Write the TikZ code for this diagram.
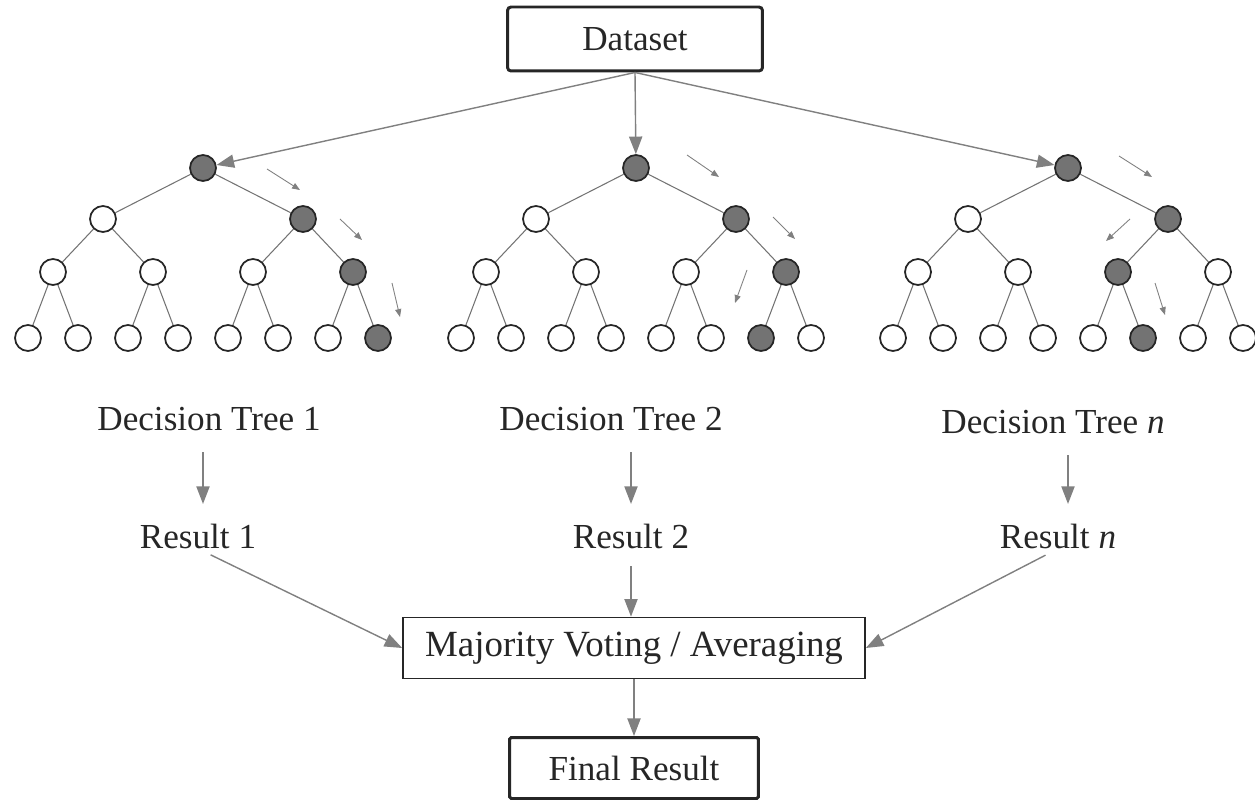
\documentclass[tikz,border=0pt]{standalone}
\usepackage{fontspec}
\setmainfont{Liberation Serif}
\usetikzlibrary{arrows.meta}

\begin{document}
\begin{tikzpicture}[x=0.02cm,y=-0.02cm,
    box/.style={draw=black!85,fill=white,inner sep=0pt,text=black!85,
        font=\fontsize{20}{24}\selectfont},
    txt/.style={inner sep=0pt,text=black!85,font=\fontsize{20}{24}\selectfont},
    bigarrow/.style={draw=black!50,line width=0.8pt,
        -{Triangle[length=10pt,width=7.5pt]}},
    hint/.style={draw=black!50,line width=0.5pt,
        -{Triangle[length=4.5pt,width=3.5pt]}}]
    \tikzstyle{element}=[circle,draw=black!85,line width=1pt,minimum
        size=0.52cm,inner sep=0pt]
    \tikzstyle{branch}=[draw=black!55,line width=0.6pt]

    \useasboundingbox (0,0) rectangle (1255,800);

    \node[box,line width=1.7pt,rounded corners=2pt,minimum width=5.1cm,
        minimum height=1.28cm] (data) at (635,39) {Dataset};

    % three trees, \leaf is the shaded leaf
    \foreach \t/\cx/\leaf in {1/203/15,2/636/14,3/1068/13} {
        \foreach \i/\dx/\y/\d in {1/0/168/3,2/-100/219/2,3/100/219/2,
            4/-150/272/1,5/-50/272/1,6/50/272/1,7/150/272/1,
            8/-175/338/0,9/-125/338/0,10/-75/338/0,11/-25/338/0,
            12/25/338/0,13/75/338/0,14/125/338/0,15/175/338/0} {
            \pgfmathtruncatemacro\anc{\leaf/2^\d}
            \ifnum\anc=\i \def\fillc{black!55}\else\def\fillc{white}\fi
            \node[element,fill=\fillc] (n\t-\i) at (\cx+\dx,\y) {};
        }
        \foreach \i in {2,...,15} {
            \pgfmathtruncatemacro\up{\i/2}
            \draw[branch] (n\t-\up) -- (n\t-\i);
        }
    }

    \draw[bigarrow] (data.south) -- (n1-1);
    \draw[bigarrow] (data.south) -- (n2-1);
    \draw[bigarrow] (data.south) -- (n3-1);

    \draw[hint] (267,169) -- (300,190);
    \draw[hint] (340,219) -- (362,240);
    \draw[hint] (392,283) -- (400,317);
    \draw[hint] (687,155) -- (719,177);
    \draw[hint] (773,217) -- (795,239);
    \draw[hint] (747,270) -- (735,303);
    \draw[hint] (1119,156) -- (1152,177);
    \draw[hint] (1130,219) -- (1106,241);
    \draw[hint] (1155,283) -- (1165,315);

    \node[txt] (dt1) at (209,419) {Decision Tree 1};
    \node[txt] (dt2) at (611,419) {Decision Tree 2};
    \node[txt] (dt3) at (1053,422) {Decision Tree \textit{n}};

    \node[txt] (res1) at (198,536) {Result 1};
    \node[txt] (res2) at (631,536) {Result 2};
    \node[txt] (res3) at (1058,536) {Result \textit{n}};

    \node[box,line width=1pt,minimum width=9.24cm,minimum height=1.22cm,
        font=\fontsize{21}{25}\selectfont]
        (vote) at (634,648) {Majority Voting / Averaging};
    \node[box,line width=1.7pt,rounded corners=1pt,minimum width=4.98cm,
        minimum height=1.22cm] (final) at (634,768) {Final Result};

    \draw[bigarrow,shorten <=12pt,shorten >=11pt] (dt1.south -| n1-1) -- (res1.north -| n1-1);
    \draw[bigarrow,shorten <=12pt,shorten >=11pt] (dt2.south -| res2) -- (res2.north);
    \draw[bigarrow,shorten <=12pt,shorten >=11pt] (dt3.south -| n3-1) -- (res3.north -| n3-1);

    \draw[bigarrow,shorten <=8pt] (res1.south) -- (vote.west);
    \draw[bigarrow,shorten <=10pt] (res2.south) -- (vote.north -| res2);
    \draw[bigarrow,shorten <=8pt] (res3.south) -- (vote.east);
    \draw[bigarrow] (vote) -- (final);

\end{tikzpicture}
\end{document}
